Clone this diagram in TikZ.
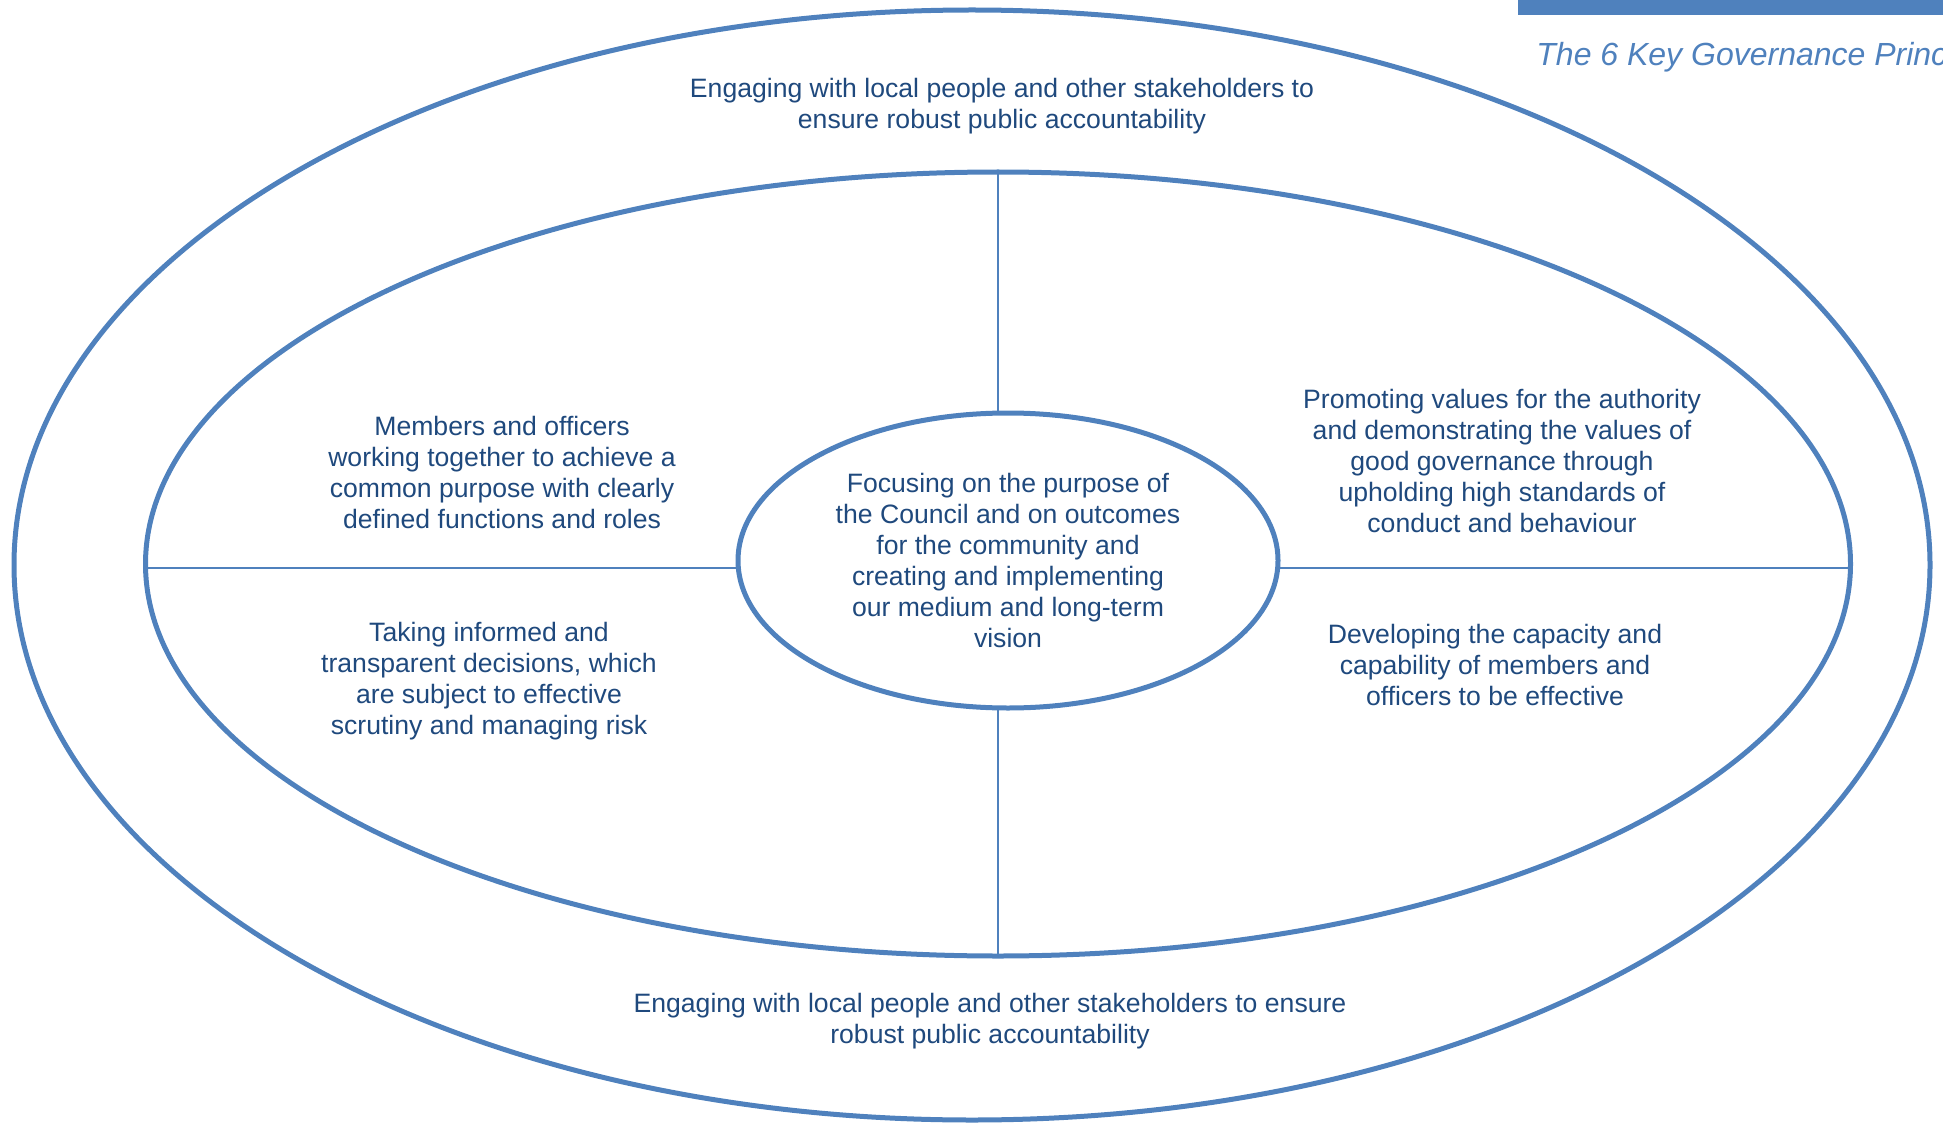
\documentclass[tikz,border=0pt]{standalone}
\usepackage{fontspec}
\setmainfont{Liberation Sans}
\usetikzlibrary{shapes.geometric}
\usetikzlibrary{positioning}
\definecolor{ringblue}{HTML}{4F81BD}
\definecolor{textnavy}{HTML}{1F497D}
\tikzset{x=0.5pt, y=-0.5pt, font=\fontsize{13.3}{15.5}\selectfont}
\tikzstyle{ring} = [draw=ringblue, line width=2.5pt, ellipse, inner sep=0pt, outer sep=0pt]
\tikzstyle{txt} = [text=textnavy, align=center, inner sep=0pt]
\tikzstyle{divider} = [draw=ringblue, line width=0.9pt]
\tikzstyle{heading} = [text=ringblue, inner sep=0pt, font=\fontsize{16}{19}\selectfont\itshape]

\begin{document}
\begin{tikzpicture}
		\useasboundingbox (0,0) rectangle (1943,1123);

		\node [ring, minimum width=958pt, minimum height=555pt] (outer) at (972,565) {};
		\node [ring, minimum width=852.5pt, minimum height=392pt] (inner) at (998,564) {};
		\node [ring, txt, minimum width=270pt, minimum height=147.5pt] (core) at (1008,560.5)
			{Focusing on the purpose of\\the Council and on outcomes\\for the community and\\creating and implementing\\our medium and long-term\\vision};

		\draw [divider] (inner.north) -- (inner.north |- core.north);
		\draw [divider] (inner.south) -- (inner.south |- core.south);
		\draw [divider] ([yshift=-2pt]inner.west) -- ([yshift=-2pt]inner.west -| core.west);
		\draw [divider] ([yshift=-2pt]inner.east) -- ([yshift=-2pt]inner.east -| core.east);

		\node [txt] (engage_top) at (1002,106) {Engaging with local people and other stakeholders to\\ensure robust public accountability};
		\node [txt] (engage_bottom) at (990,1021) {Engaging with local people and other stakeholders to ensure\\robust public accountability};

		\node [txt] (members) at (502,472) {Members and officers\\working together to achieve a\\common purpose with clearly\\defined functions and roles};
		\node [txt] (decisions) at (489,681) {Taking informed and\\transparent decisions, which\\are subject to effective\\scrutiny and managing risk};
		\node [txt] (values) at (1502,461) {Promoting values for the authority\\and demonstrating the values of\\good governance through\\upholding high standards of\\conduct and behaviour};
		\node [txt] (capacity) at (1495,665) {Developing the capacity and\\capability of members and\\officers to be effective};

		% page header, cut off at the right edge
		\fill [ringblue] (1518,0) rectangle (1943,15);
		\begin{scope}
			\clip (0,0) rectangle (1943,1123);
			\node [heading, anchor=base west] (title) at (1536,66) {The 6 Key Governance Princ};
		\end{scope}
	\end{tikzpicture}
\end{document}
